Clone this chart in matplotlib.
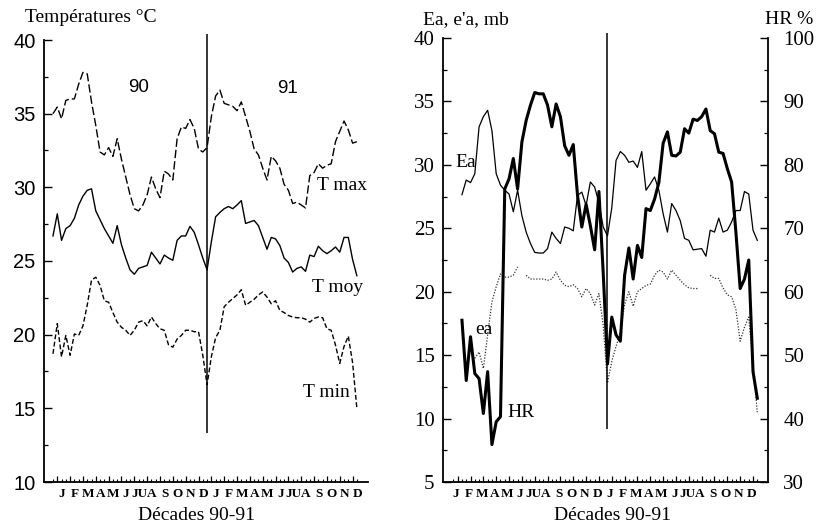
import numpy as np
import matplotlib
matplotlib.use("Agg")
import matplotlib.pyplot as plt
from matplotlib.ticker import MultipleLocator, FixedLocator, NullFormatter

SERIF = ["Liberation Serif", "DejaVu Serif"]
SANS = ["Liberation Sans", "DejaVu Sans"]

# ---------------- data ----------------
months = ["J", "F", "M", "A", "M", "J", "JU", "A", "S", "O", "N", "D"]
month_labels = months * 2
year_labels = ["90", "91"]
split_decade = 36

# left panel : temperatures (decades 0..71)
t_max = [35.0, 35.45, 34.65, 35.9, 36.0, 36.0, 37.0, 37.8, 37.7, 35.8, 34.2, 32.4,
         32.2, 32.7, 32.1, 33.3, 31.9, 30.7, 29.5, 28.55, 28.4, 28.8, 29.5, 30.7,
         29.9, 29.3, 31.1, 30.9, 30.5, 33.3, 34.1, 34.0, 34.6, 34.0, 32.6, 32.4,
         32.7, 34.8, 36.2, 36.6, 35.7, 35.6, 35.5, 35.2, 35.8, 34.8, 33.8, 32.6,
         32.2, 31.3, 30.5, 32.1, 31.8, 31.3, 30.2, 29.8, 28.9, 29.0, 28.8, 28.6,
         30.8, 31.0, 31.6, 31.3, 31.5, 31.6, 33.1, 33.8, 34.5, 33.9, 33.0, 33.1]
t_moy = [26.7, 28.2, 26.4, 27.2, 27.4, 27.9, 28.8, 29.4, 29.8, 29.9, 28.4, 27.8,
         27.2, 26.7, 26.2, 27.4, 26.1, 25.2, 24.4, 24.1, 24.5, 24.6, 24.7, 25.6,
         25.2, 24.8, 25.4, 25.2, 25.05, 26.4, 26.7, 26.7, 27.35, 26.95, 26.1, 25.2,
         24.4, 26.3, 28.0, 28.3, 28.55, 28.7, 28.55, 28.8, 29.1, 27.55, 27.65, 27.75,
         27.4, 26.6, 25.8, 26.6, 26.5, 26.05, 25.2, 24.9, 24.25, 24.5, 24.6, 24.3,
         25.4, 25.3, 26.0, 25.7, 25.5, 25.7, 25.95, 25.6, 26.6, 26.6, 25.1, 24.0]
t_min = [18.7, 20.75, 18.5, 19.95, 18.6, 20.05, 19.95, 20.6, 22.0, 23.7, 23.9, 23.35,
         22.3, 22.2, 21.5, 20.85, 20.5, 20.3, 19.95, 20.3, 20.85, 20.95, 20.6, 21.2,
         20.75, 20.4, 20.3, 19.3, 19.15, 19.7, 19.95, 20.3, 20.3, 20.2, 20.2, 18.6,
         16.6, 18.5, 19.8, 20.3, 21.9, 22.2, 22.45, 22.7, 23.05, 22.0, 22.2, 22.4,
         22.7, 22.9, 22.55, 22.1, 22.3, 21.65, 21.5, 21.3, 21.2, 21.15, 21.15, 21.05,
         20.85, 21.1, 21.2, 21.15, 20.4, 20.3, 19.3, 18.05, 19.2, 19.9, 18.1, 15.0]

# right panel : Ea, ea (mb) and HR (%)
ea_sat = [27.65, 28.8, 28.6, 29.3, 33.0, 33.8, 34.3, 32.7, 29.3, 28.4, 28.0, 27.7,
          26.3, 28.0, 26.0, 24.7, 23.8, 23.1, 23.05, 23.05, 23.4, 24.7, 24.2, 23.8,
          25.1, 25.0, 24.8, 27.6, 27.85, 26.8, 28.65, 28.25, 27.0, 25.1,
          24.4, 26.6, 30.35, 31.05, 30.75, 30.2, 30.3, 29.8, 31.05, 28.0, 28.5, 29.05,
          28.0, 26.15, 24.7, 26.95, 26.4, 25.6, 24.2, 24.05, 23.3, 23.35, 23.4, 22.8,
          24.85, 24.7, 25.8, 24.7, 24.85, 25.5, 26.4, 26.4, 27.9, 27.7, 24.85, 24.05]
hr = [55.5, 46.0, 52.9, 47.1, 46.3, 40.8, 47.4, 35.9, 39.5, 40.3, 76.2, 77.8,
      81.0, 76.2, 83.6, 87.0, 89.4, 91.4, 91.2, 91.2, 89.4, 86.0, 89.6, 87.6,
      83.0, 81.5, 83.2, 75.2, 70.2, 73.8, 70.4, 66.6, 75.8, 63.0,
      48.6, 56.0, 53.2, 52.2, 62.6, 66.9, 62.0, 67.3, 65.4, 73.1, 72.8, 74.6,
      77.2, 83.4, 85.2, 81.5, 81.4, 82.0, 85.7, 85.0, 87.2, 87.0, 87.6, 88.8,
      85.4, 84.9, 82.0, 81.8, 79.4, 77.3, 69.4, 60.5, 62.0, 65.0, 47.4, 43.2]
nan = np.nan
ea_act = [14.75, 15.25, 13.95, 16.6, 19.2, 20.4, 21.4, 21.15, 21.15, 21.3, 21.95, nan,
          21.3, 21.0, 21.0, 21.0, 21.0, 20.9, 21.0, 21.55, 20.9, 20.5, 20.4, 20.55,
          20.25, 19.6, 20.25, 19.85, 18.95, 19.85, 17.35,
          12.8, 14.5, 15.7, 16.8, 19.0, 20.0, 18.85, 20.0, 20.25, 20.5, 20.6, 21.3,
          21.7, 21.55, 21.0, 21.7, 21.3, 20.9, 20.55, 20.3, 20.25, 20.25, nan, nan,
          21.3, 21.05, 21.05, 20.3, 19.75, 19.6, 18.6, 16.1, 17.2, 18.0, 14.3, 10.5]

x_t = np.arange(len(t_max))
x_sat = np.arange(2, 2 + len(ea_sat))
x_hr = np.arange(2, 2 + len(hr))
x_act = np.arange(5, 5 + len(ea_act))

# ---------------- figure ----------------
W, H = 821, 526
fig = plt.figure(figsize=(W / 100, H / 100), dpi=100)
axL = fig.add_axes([44 / W, 44 / H, 324 / W, 442 / H])
axR = fig.add_axes([443 / W, 44 / H, 325 / W, 444 / H])
axR2 = axR.twinx()

decade_ticks = np.arange(72)
month_ticks = np.arange(1, 72, 3)


def style_xaxis(ax, label_offset):
    ax.xaxis.set_major_locator(FixedLocator(month_ticks))
    ax.xaxis.set_minor_locator(FixedLocator(decade_ticks))
    ax.xaxis.set_major_formatter(NullFormatter())
    ax.tick_params(axis="x", which="major", direction="in", length=4.5, width=0.9)
    ax.tick_params(axis="x", which="minor", direction="in", length=2.3, width=0.8)
    sec = ax.secondary_xaxis("bottom")
    sec.set_xticks(np.arange(24) * 3 + label_offset, labels=month_labels)
    sec.tick_params(length=0, pad=4.5)
    sec.spines["bottom"].set_visible(False)
    for lab in sec.get_xticklabels():
        lab.set_fontfamily(SERIF)
        lab.set_fontsize(9.5)
        lab.set_fontweight("bold")


# ---- left panel ----
axL.plot(x_t, t_max, color="k", lw=1.0, dashes=(6, 2.2))
axL.plot(x_t, t_moy, color="k", lw=1.0)
axL.plot(x_t, t_min, color="k", lw=1.0, dashes=(3.5, 1.8))
axL.vlines(split_decade, 13.3, 40.4, color="k", lw=1.1, clip_on=False)
axL.set_xlim(-2.1, 73.6)
axL.set_ylim(10, 40)
for s in ("top", "right"):
    axL.spines[s].set_visible(False)
for s in ("left", "bottom"):
    axL.spines[s].set_linewidth(1.3)
axL.yaxis.set_major_locator(MultipleLocator(5))
axL.yaxis.set_minor_locator(MultipleLocator(2.5))
axL.tick_params(axis="y", which="major", direction="in", length=5.8, width=1.0, pad=6)
axL.tick_params(axis="y", which="minor", direction="in", length=3.0, width=0.9)
for lab in axL.get_yticklabels():
    lab.set_fontfamily(SANS)
    lab.set_fontsize(14.5)
style_xaxis(axL, 2.1)

axL.text(19.9, 36.8, year_labels[0], ha="center", va="center", fontsize=13.5, family=SANS)
axL.text(54.9, 36.7, year_labels[1], ha="center", va="center", fontsize=13.5, family=SANS)
axL.text(61.7, 30.1, "T max", ha="left", va="center", fontsize=14, family=SERIF)
axL.text(60.5, 23.2, "T moy", ha="left", va="center", fontsize=14, family=SERIF)
axL.text(58.4, 16.1, "T min", ha="left", va="center", fontsize=14, family=SERIF)

fig.text(25 / W, 1 - 18 / H, "Températures °C", ha="left", va="center", fontsize=14, family=SERIF)
fig.text(196 / W, 1 - 515 / H, "Décades 90-91", ha="center", va="center", fontsize=14, family=SERIF)

# ---- right panel ----
axR.plot(x_sat, ea_sat, color="k", lw=0.9)
axR.plot(x_act, ea_act, color="#333333", lw=0.9, dashes=(1, 1.3))
axR2.plot(x_hr, hr, color="k", lw=2.2)
axR.vlines(split_decade, 9.2, 40.4, color="k", lw=1.1, clip_on=False)
axR.set_xlim(-2.43, 73.5)
axR.set_ylim(5, 40)
axR2.set_ylim(30, 100)
axR.spines["top"].set_visible(False)
axR.spines["right"].set_visible(False)
for s in ("top", "left", "bottom"):
    axR2.spines[s].set_visible(False)
axR.spines["left"].set_linewidth(1.3)
axR.spines["bottom"].set_linewidth(1.3)
axR2.spines["right"].set_linewidth(1.3)
axR.yaxis.set_major_locator(MultipleLocator(5))
axR.yaxis.set_minor_locator(MultipleLocator(2.5))
axR.tick_params(axis="y", which="major", direction="in", length=5.8, width=1.0, pad=6)
axR.tick_params(axis="y", which="minor", direction="in", length=3.0, width=0.9)
axR2.yaxis.set_major_locator(MultipleLocator(10))
axR2.yaxis.set_minor_locator(MultipleLocator(5))
axR2.tick_params(axis="y", which="major", direction="in", length=5.8, width=1.0, pad=11)
axR2.tick_params(axis="y", which="minor", direction="in", length=3.0, width=0.9)
for lab in axR.get_yticklabels() + axR2.get_yticklabels():
    lab.set_fontfamily(SERIF)
    lab.set_fontsize(15)
style_xaxis(axR, 0.6)

axR.text(0.4, 30.2, "Ea", ha="left", va="center", fontsize=14, family=SERIF)
axR.text(5.0, 17.0, "ea", ha="left", va="center", fontsize=14, family=SERIF)
axR.text(12.5, 10.45, "HR", ha="left", va="center", fontsize=14, family=SERIF)

fig.text(423 / W, 1 - 20 / H, "Ea, e'a, mb", ha="left", va="center", fontsize=14, family=SERIF)
fig.text(765 / W, 1 - 20 / H, "HR %", ha="left", va="center", fontsize=14, family=SERIF)
fig.text(612 / W, 1 - 515 / H, "Décades 90-91", ha="center", va="center", fontsize=14, family=SERIF)

fig.savefig("out.png", dpi=100)
